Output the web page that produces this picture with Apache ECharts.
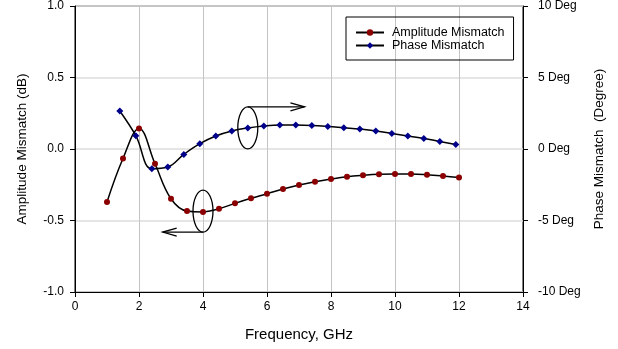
<!DOCTYPE html>
<html>
<head>
<meta charset="utf-8">
<script src="https://cdn.jsdelivr.net/npm/echarts@6/dist/echarts.min.js"></script>
<style>
  html, body { margin: 0; padding: 0; background: #fff; }
  #chart { width: 618px; height: 349px; }
</style>
</head>
<body>
<div id="chart"></div>
<script>
// amplitude mismatch, dB (left axis)
var ampFreq = [1, 1.5, 2, 2.5, 3, 3.5, 4, 4.5, 5, 5.5, 6, 6.5, 7, 7.5, 8, 8.5, 9, 9.5, 10, 10.5, 11, 11.5, 12]
var ampValues = [-0.37, -0.066, 0.144, -0.103, -0.348, -0.434, -0.44, -0.418, -0.38, -0.345, -0.313, -0.28, -0.252, -0.229, -0.21, -0.194, -0.184, -0.177, -0.175, -0.175, -0.18, -0.189, -0.2]

// phase mismatch, degrees (right axis)
var phaseFreq = [1.4, 1.9, 2.4, 2.9, 3.4, 3.9, 4.4, 4.9, 5.4, 5.9, 6.4, 6.9, 7.4, 7.9, 8.4, 8.9, 9.4, 9.9, 10.4, 10.9, 11.4, 11.9]
var phaseValues = [2.66, 0.93, -1.38, -1.26, -0.38, 0.37, 0.91, 1.26, 1.47, 1.61, 1.68, 1.68, 1.65, 1.58, 1.49, 1.4, 1.26, 1.09, 0.91, 0.74, 0.53, 0.32]

var font = 'Liberation Sans, Arial, sans-serif'

var myChart = echarts.init(document.getElementById('chart'))

var option = {
  animation: false,
  textStyle: { fontFamily: font },
  grid: {
    left: 75,
    right: 95,
    top: 6,
    bottom: 57,
    show: true,
    borderColor: '#000',
    borderWidth: 1
  },
  legend: {
    left: 346,
    top: 17,
    orient: 'vertical',
    itemWidth: 28,
    itemHeight: 8,
    itemGap: 0,
    padding: [9, 9, 8, 9],
    borderColor: '#000',
    borderWidth: 1,
    textStyle: { fontFamily: font, fontSize: 12.5, color: '#000', padding: [0, 0, 0, 3] },
    data: ['Amplitude Mismatch', 'Phase Mismatch']
  },
  xAxis: {
    type: 'value',
    min: 0,
    max: 14,
    interval: 2,
    name: 'Frequency, GHz',
    nameLocation: 'middle',
    nameGap: 35,
    nameTextStyle: { fontSize: 15, color: '#000', fontFamily: font },
    axisLine: { onZero: false, lineStyle: { color: '#000' } },
    axisTick: { show: true, length: 5, lineStyle: { color: '#000' } },
    axisLabel: { color: '#000', fontSize: 12, margin: 9 },
    splitLine: { show: true, lineStyle: { color: '#c4c4c4', width: 1 } }
  },
  yAxis: [
    {
      type: 'value',
      min: -1,
      max: 1,
      interval: 0.5,
      name: 'Amplitude Mismatch (dB)',
      nameLocation: 'middle',
      nameGap: 46,
      nameTextStyle: { fontSize: 13.5, color: '#000', fontFamily: font },
      axisLine: { show: true, lineStyle: { color: '#000' } },
      axisTick: { show: true, length: 5, lineStyle: { color: '#000' } },
      axisLabel: {
        color: '#000',
        fontSize: 12,
        margin: 11,
        formatter: function (v) { return v.toFixed(1) }
      },
      splitLine: { show: true, lineStyle: { color: '#dcdcdc', width: 1.5 } }
    },
    {
      type: 'value',
      min: -10,
      max: 10,
      interval: 5,
      position: 'right',
      name: 'Phase Mismatch  (Degree)',
      nameLocation: 'middle',
      nameGap: 69,
      nameTextStyle: { fontSize: 13.5, color: '#000', fontFamily: font },
      axisLine: { show: true, lineStyle: { color: '#000' } },
      axisTick: { show: true, length: 5, lineStyle: { color: '#000' } },
      axisLabel: { color: '#000', fontSize: 12, margin: 15, formatter: '{value} Deg' },
      splitLine: { show: false }
    }
  ],
  series: [
    {
      name: 'Amplitude Mismatch',
      type: 'line',
      yAxisIndex: 0,
      smooth: 0.4,
      symbol: 'circle',
      symbolSize: 6,
      lineStyle: { color: '#000', width: 1.5 },
      itemStyle: { color: '#8b0000' },
      data: ampFreq.map(function (f, i) { return [f, ampValues[i]] })
    },
    {
      name: 'Phase Mismatch',
      type: 'line',
      yAxisIndex: 1,
      smooth: 0.4,
      symbol: 'diamond',
      symbolSize: 7,
      lineStyle: { color: '#000', width: 1.5 },
      itemStyle: { color: '#00008b' },
      data: phaseFreq.map(function (f, i) { return [f, phaseValues[i]] })
    }
  ]
}

myChart.setOption(option)

// annotation ellipses with arrows pointing to each curve's axis
function px (x, y) {
  return myChart.convertToPixel({ xAxisIndex: 0, yAxisIndex: 0 }, [x, y])
}
var rx = 10
var ry = 21
var e1 = px(5.4, 0.148)
var e2 = px(4.0, -0.434)
var a1 = px(7.17, 0)[0]
var a2 = px(2.74, 0)[0]
var stroke = { stroke: '#000', lineWidth: 1.3, fill: null }

myChart.setOption({
  graphic: [
    { type: 'ellipse', shape: { cx: e1[0], cy: e1[1], rx: rx, ry: ry }, style: stroke, z: 100 },
    { type: 'line', shape: { x1: e1[0], y1: e1[1] - ry, x2: a1, y2: e1[1] - ry }, style: stroke, z: 100 },
    { type: 'polyline', shape: { points: [[a1 - 14, e1[1] - ry - 4], [a1, e1[1] - ry], [a1 - 14, e1[1] - ry + 4]] }, style: stroke, z: 100 },
    { type: 'ellipse', shape: { cx: e2[0], cy: e2[1], rx: rx, ry: ry }, style: stroke, z: 100 },
    { type: 'line', shape: { x1: e2[0], y1: e2[1] + ry, x2: a2, y2: e2[1] + ry }, style: stroke, z: 100 },
    { type: 'polyline', shape: { points: [[a2 + 14, e2[1] + ry - 4], [a2, e2[1] + ry], [a2 + 14, e2[1] + ry + 4]] }, style: stroke, z: 100 }
  ]
})
</script>
</body>
</html>
